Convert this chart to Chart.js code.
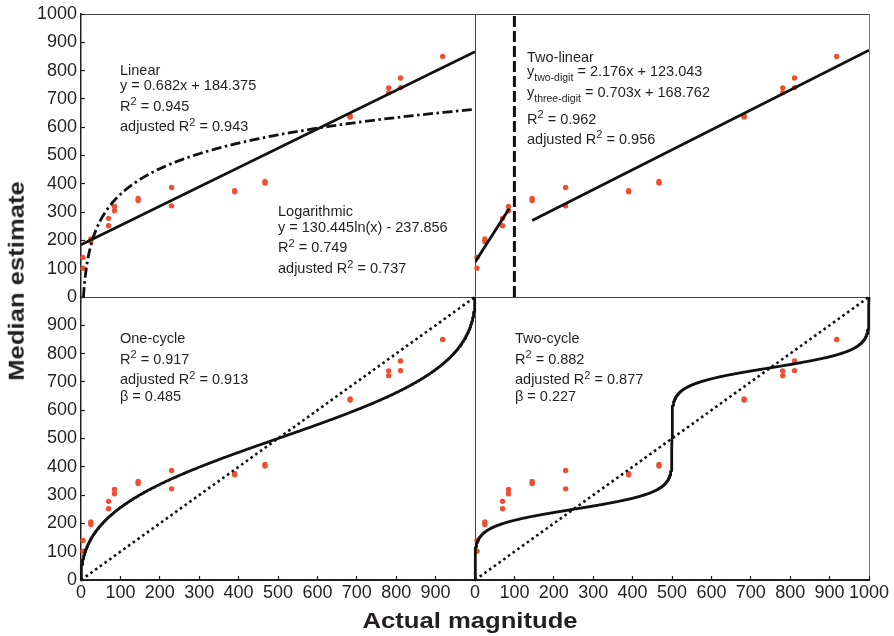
<!DOCTYPE html>
<html>
<head>
<meta charset="utf-8">
<script src="https://cdn.jsdelivr.net/npm/chart.js@4.4.1/dist/chart.umd.min.js"></script>
<style>
html,body{margin:0;padding:0;background:#fff;}
#wrap{position:relative;width:894px;height:636px;overflow:hidden;font-family:"Liberation Sans",Arial,Helvetica,sans-serif;color:#231f20;}
#c{position:absolute;left:0;top:0;}
.ann{position:absolute;font-size:14.5px;line-height:1;white-space:nowrap;}
.sup{position:relative;top:-5.5px;font-size:11px;}
.sub{position:relative;top:5px;font-size:10.5px;}
.title{position:absolute;font-weight:bold;font-size:22.5px;line-height:1;white-space:nowrap;}
</style>
</head>
<body>
<div id="wrap">
<canvas id="c" width="894" height="636"></canvas>

<div class="ann" style="left:120px;top:62.7px">Linear</div>
<div class="ann" style="left:120px;top:78.4px">y = 0.682x + 184.375</div>
<div class="ann" style="left:120px;top:98.7px">R<span class="sup">2</span> = 0.945</div>
<div class="ann" style="left:120px;top:119px">adjusted R<span class="sup">2</span> = 0.943</div>

<div class="ann" style="left:278px;top:204.4px">Logarithmic</div>
<div class="ann" style="left:278px;top:220.4px">y = 130.445ln(x) - 237.856</div>
<div class="ann" style="left:278px;top:240px">R<span class="sup">2</span> = 0.749</div>
<div class="ann" style="left:278px;top:261px">adjusted R<span class="sup">2</span> = 0.737</div>

<div class="ann" style="left:527px;top:50.4px">Two-linear</div>
<div class="ann" style="left:527px;top:63.7px">y<span class="sub">two-digit</span> = 2.176x + 123.043</div>
<div class="ann" style="left:527px;top:84.7px">y<span class="sub">three-digit</span> = 0.703x + 168.762</div>
<div class="ann" style="left:527px;top:111.7px">R<span class="sup">2</span> = 0.962</div>
<div class="ann" style="left:527px;top:131.7px">adjusted R<span class="sup">2</span> = 0.956</div>

<div class="ann" style="left:120px;top:331px">One-cycle</div>
<div class="ann" style="left:120px;top:351.7px">R<span class="sup">2</span> = 0.917</div>
<div class="ann" style="left:120px;top:372px">adjusted R<span class="sup">2</span> = 0.913</div>
<div class="ann" style="left:120px;top:389.4px">β = 0.485</div>

<div class="ann" style="left:515px;top:331px">Two-cycle</div>
<div class="ann" style="left:515px;top:351.7px">R<span class="sup">2</span> = 0.882</div>
<div class="ann" style="left:515px;top:372px">adjusted R<span class="sup">2</span> = 0.877</div>
<div class="ann" style="left:515px;top:389.4px">β = 0.227</div>

<div class="title" style="left:470px;top:609.5px;transform:translateX(-50%) scaleX(1.14);">Actual magnitude</div>
<div class="title" style="left:17px;top:281px;transform:translate(-50%,-50%) rotate(-90deg) scaleX(1.14);">Median estimate</div>
</div>

<script>
// ---- data ----
const actualMagnitude = [5, 5, 25, 25, 70, 70, 85, 85, 145, 145, 230, 230, 390, 390, 467, 467, 683, 683, 781, 781, 811, 811, 918];
const medianEstimate  = [102, 140, 196, 205, 252, 278, 305, 320, 341, 348, 322, 387, 372, 376, 403, 408, 636, 640, 722, 739, 740, 774, 850];
const tickValues = [0, 100, 200, 300, 400, 500, 600, 700, 800, 900, 1000];

// model coefficients printed on the figure
const linearFit = [0.682, 184.375];        // slope, intercept
const logFit = [130.445, -237.856];        // a*ln(x) + b
const twoDigitFit = [2.176, 123.043];
const threeDigitFit = [0.703, 168.762];
const twoDigitRange = [0, 87];
const threeDigitRange = [145, 1000];
const digitBoundary = [100];
const oneCycleBeta = [0.485];
const twoCycleBeta = [0.227];

// ---- helpers to evaluate the printed models ----
function cosGrid(a, b, n) {
  const xs = [];
  for (let i = 0; i <= n; i++) xs.push(a + (b - a) * (1 - Math.cos(Math.PI * i / n)) / 2);
  return xs;
}
function cyc(x, range, beta) {
  if (x <= 0) return 0;
  if (x >= range) return range;
  const p = Math.pow(x, beta), q = Math.pow(range - x, beta);
  return range * p / (p + q);
}
const pts = actualMagnitude.map((x, i) => ({x: x, y: medianEstimate[i]}));
const linearLine = [0, 1000].map(x => ({x: x, y: linearFit[0] * x + linearFit[1]}));
const logStart = Math.exp(-logFit[1] / logFit[0]);
const logLine = [];
for (let i = 0; i <= 300; i++) {
  const x = logStart * Math.pow(1000 / logStart, i / 300);
  logLine.push({x: x, y: logFit[0] * Math.log(x) + logFit[1]});
}
const twoDigitLine = twoDigitRange.map(x => ({x: x, y: twoDigitFit[0] * x + twoDigitFit[1]}));
const threeDigitLine = threeDigitRange.map(x => ({x: x, y: threeDigitFit[0] * x + threeDigitFit[1]}));
const boundaryLine = [0, 1000].map(y => ({x: digitBoundary[0], y: y}));
const oneCycleLine = cosGrid(0, 1000, 600).map(x => ({x: x, y: cyc(x, 1000, oneCycleBeta[0])}));
const twoCycleLine = cosGrid(0, 500, 500).map(x => ({x: x, y: cyc(x, 500, twoCycleBeta[0])}))
  .concat(cosGrid(0, 500, 500).slice(1).map(x => ({x: 500 + x, y: 500 + cyc(x, 500, twoCycleBeta[0])})));
const identityLine = [0, 1000].map(v => ({x: v, y: v}));

// ---- styling ----
const INK = '#231f20';
const LINE = '#111111';
const RED = '#f04e30';
const FONT = '"Liberation Sans", Arial, Helvetica, sans-serif';

function pointSet(xId, yId) {
  return {data: pts, xAxisID: xId, yAxisID: yId, order: 10, showLine: false, clip: 4,
    pointRadius: 2.7, pointBackgroundColor: RED, pointBorderWidth: 0, pointHoverRadius: 2.7};
}
function lineSet(data, xId, yId, dash, width, clip) {
  return {data: data, xAxisID: xId, yAxisID: yId, order: 0, showLine: true, fill: false,
    borderColor: LINE, borderWidth: width || 2.8, borderDash: dash || [], tension: 0,
    clip: clip === undefined ? 0 : clip,
    pointRadius: 0, pointHoverRadius: 0, borderCapStyle: 'butt', borderJoinStyle: 'round'};
}

function xAxis(isLeft) {
  return {
    type: 'linear', position: 'bottom', stack: 'xs', stackWeight: 1, weight: isLeft ? 0 : 1,
    min: 0, max: 1000,
    afterBuildTicks: s => { s.ticks = tickValues.map(v => ({value: v})); },
    ticks: {autoSkip: false, maxRotation: 0, minRotation: 0, padding: 6, color: INK,
      font: {family: FONT, size: 18},
      callback: v => (isLeft && v === 1000) ? '' : String(v)},
    grid: {drawOnChartArea: true, drawTicks: true, tickLength: -4, tickColor: INK, tickWidth: 1.2, lineWidth: 1,
      color: ctx => (ctx.tick && ctx.tick.value === 1000) ? (isLeft ? '#444' : '#777') : 'rgba(0,0,0,0)'},
    border: {display: true, color: INK, width: 2},
    afterFit: s => { s.height = 56; s.paddingLeft = 0; s.paddingRight = 0; }
  };
}
function yAxis(isTop) {
  return {
    type: 'linear', position: 'left', stack: 'ys', stackWeight: 1, weight: isTop ? 1 : 0,
    min: 0, max: 1000,
    afterBuildTicks: s => { s.ticks = tickValues.map(v => ({value: v})); },
    ticks: {autoSkip: false, padding: 8, color: INK, font: {family: FONT, size: 18},
      callback: v => (!isTop && v === 1000) ? '' : String(v)},
    grid: {drawOnChartArea: true, drawTicks: true, tickLength: -4, tickColor: INK, tickWidth: 1.2, lineWidth: 1,
      color: ctx => (isTop && ctx.tick && (ctx.tick.value === 1000 || ctx.tick.value === 0)) ? '#444' : 'rgba(0,0,0,0)'},
    border: {display: true, color: INK, width: 1.5},
    afterFit: s => { s.width = 81; s.paddingTop = 0; s.paddingBottom = 0; }
  };
}

new Chart(document.getElementById('c'), {
  type: 'scatter',
  data: {
    datasets: [
      pointSet('xL', 'yT'), pointSet('xR', 'yT'), pointSet('xL', 'yB'), pointSet('xR', 'yB'),
      lineSet(linearLine, 'xL', 'yT'),
      lineSet(logLine, 'xL', 'yT', [10, 3.5, 2.5, 3.5]),
      lineSet(twoDigitLine, 'xR', 'yT'),
      lineSet(threeDigitLine, 'xR', 'yT'),
      lineSet(boundaryLine, 'xR', 'yT', [11, 4], 3),
      lineSet(identityLine, 'xL', 'yB', [2.6, 3.2], 2.6, 2),
      lineSet(oneCycleLine, 'xL', 'yB', [], 2.8, 2),
      lineSet(identityLine, 'xR', 'yB', [2.6, 3.2], 2.6, 2),
      lineSet(twoCycleLine, 'xR', 'yB', [], 2.8, 2)
    ]
  },
  options: {
    responsive: false, animation: false, devicePixelRatio: 1,
    layout: {padding: {top: 14, right: 25, bottom: 0, left: 0}},
    plugins: {legend: {display: false}, tooltip: {enabled: false}, title: {display: false}},
    events: [],
    scales: {
      yB: yAxis(false),
      yT: yAxis(true),
      xL: xAxis(true),
      xR: xAxis(false)
    }
  }
});
</script>
</body>
</html>
